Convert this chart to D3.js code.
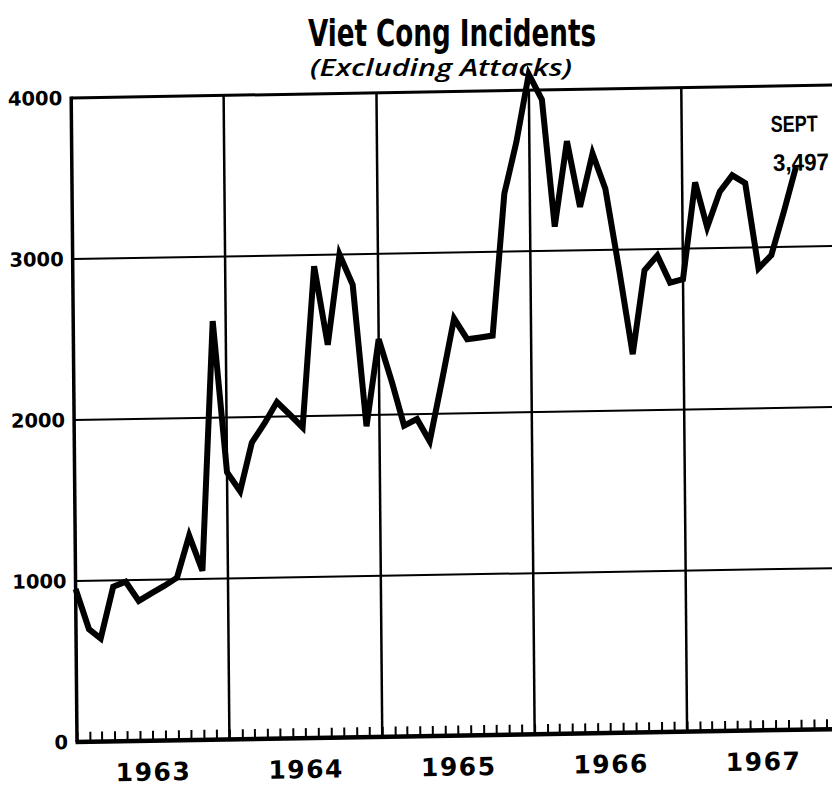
<!DOCTYPE html>
<html>
<head>
<meta charset="utf-8">
<script src="https://cdn.jsdelivr.net/npm/d3@7"></script>
<style>
  html, body { margin: 0; padding: 0; background: #fff; }
  svg { display: block; }
</style>
</head>
<body>
<div id="chart"></div>
<script>
// monthly totals, Dec 1962 .. Sept 1967
const months = [
  '1962-12',
  '1963-01','1963-02','1963-03','1963-04','1963-05','1963-06','1963-07','1963-08','1963-09','1963-10','1963-11','1963-12',
  '1964-01','1964-02','1964-03','1964-04','1964-05','1964-06','1964-07','1964-08','1964-09','1964-10','1964-11','1964-12',
  '1965-01','1965-02','1965-03','1965-04','1965-05','1965-06','1965-07','1965-08','1965-09','1965-10','1965-11','1965-12',
  '1966-01','1966-02','1966-03','1966-04','1966-05','1966-06','1966-07','1966-08','1966-09','1966-10','1966-11','1966-12',
  '1967-01','1967-02','1967-03','1967-04','1967-05','1967-06','1967-07','1967-08','1967-09'
]
const incidents = [
  950,
  700, 640, 960, 990, 870, 915, 960, 1010, 1270, 1050, 2600, 1660,
  1540, 1840, 1960, 2090, 2010, 1930, 2930, 2440, 3000, 2810, 1930, 2470,
  2200, 1930, 1970, 1830, 2210, 2590, 2460, 2470, 2480, 3360, 3680, 4100,
  3940, 3150, 3680, 3270, 3600, 3380, 2880, 2350, 2870, 2960, 2790, 2810,
  3410, 3130, 3350, 3450, 3400, 2870, 2950, 3220, 3497
]
const years = ['1963', '1964', '1965', '1966', '1967']
const yTicks = [0, 1000, 2000, 3000, 4000]
const endLabel = ['SEPT', '3,497']

const width = 832, height = 786
const parseMonth = d3.timeParse('%Y-%m')

// points sit at the end of their month
const data = months.map((m, i) => ({ date: d3.timeMonth.offset(parseMonth(m), 1), value: incidents[i] }))

const x = d3.scaleTime()
  .domain([new Date(1963, 0, 1), new Date(1968, 0, 1)])
  .range([77, 839.5])

const y = d3.scaleLinear()
  .domain([0, 4000])
  .range([742, 98])

const svg = d3.select('#chart')
  .append('svg')
  .attr('width', width)
  .attr('height', height)

svg.append('rect')
  .attr('width', width)
  .attr('height', height)
  .attr('fill', '#fff')

// titles
svg.append('text')
  .attr('x', 452)
  .attr('y', 46)
  .attr('text-anchor', 'middle')
  .attr('font-family', '"DejaVu Sans Condensed", "DejaVu Sans", sans-serif')
  .attr('font-stretch', 'condensed')
  .attr('font-weight', 'bold')
  .attr('font-size', 38)
  .attr('textLength', 288)
  .attr('lengthAdjust', 'spacingAndGlyphs')
  .text('Viet Cong Incidents')

svg.append('text')
  .attr('x', 441)
  .attr('y', 76)
  .attr('text-anchor', 'middle')
  .attr('font-family', '"Open Sans", sans-serif')
  .attr('font-style', 'italic')
  .attr('font-weight', 600)
  .attr('font-size', 23)
  .attr('textLength', 262)
  .attr('lengthAdjust', 'spacingAndGlyphs')
  .text('(Excluding Attacks)')

// the scanned page is slightly skewed
const chart = svg.append('g')
  .attr('transform', `matrix(1,-0.017,0.009,1,${-0.009 * 742},${0.017 * 77})`)

const x0 = x.range()[0], x1 = x.range()[1]

// horizontal grid
chart.append('g')
  .selectAll('line')
  .data(yTicks.filter(d => d > 0))
  .enter()
  .append('line')
  .attr('x1', x0)
  .attr('x2', x1)
  .attr('y1', d => y(d))
  .attr('y2', d => y(d))
  .attr('stroke', '#000')
  .attr('stroke-width', d => d === 4000 ? 3 : 2)

// year dividers
chart.append('g')
  .selectAll('line')
  .data(years.slice(1))
  .enter()
  .append('line')
  .attr('x1', d => x(new Date(+d, 0, 1)))
  .attr('x2', d => x(new Date(+d, 0, 1)))
  .attr('y1', y(4000))
  .attr('y2', y(0))
  .attr('stroke', '#000')
  .attr('stroke-width', 2.5)

// left axis line
chart.append('line')
  .attr('x1', x0).attr('x2', x0)
  .attr('y1', y(4000) - 1.5).attr('y2', y(0))
  .attr('stroke', '#000')
  .attr('stroke-width', 3.5)

// month ticks along the bottom
const monthAxis = chart.append('g')
  .attr('transform', `translate(0,${y(0)})`)
  .call(d3.axisBottom(x).ticks(d3.timeMonth.every(1)).tickSize(-10).tickFormat(''))

monthAxis.select('.domain').remove()
monthAxis.selectAll('.tick line')
  .attr('stroke', '#000')
  .attr('stroke-width', 2)

chart.append('line')
  .attr('x1', x0 - 1.5).attr('x2', x1)
  .attr('y1', y(0)).attr('y2', y(0))
  .attr('stroke', '#000')
  .attr('stroke-width', 4.5)

// y labels
const yAxis = chart.append('g')
  .attr('transform', `translate(${x0},0)`)
  .call(d3.axisLeft(y).tickValues(yTicks).tickSize(0).tickPadding(9).tickFormat(d3.format('d')))

yAxis.select('.domain').remove()
yAxis.selectAll('text')
  .attr('fill', '#000')
  .attr('font-family', '"DejaVu Sans", sans-serif')
  .attr('font-weight', 'bold')
  .attr('font-size', 19.5)

// year labels
chart.append('g')
  .selectAll('text')
  .data(years)
  .enter()
  .append('text')
  .attr('x', d => (x(new Date(+d, 0, 1)) + x(new Date(+d + 1, 0, 1))) / 2)
  .attr('y', 782)
  .attr('text-anchor', 'middle')
  .attr('font-family', '"DejaVu Sans", sans-serif')
  .attr('font-weight', 'bold')
  .attr('font-size', 25)
  .attr('letter-spacing', 1.5)
  .text(d => d)

// the incidents line
const line = d3.line()
  .x(d => x(d.date))
  .y(d => y(d.value))

chart.append('path')
  .datum(data)
  .attr('d', line)
  .attr('fill', 'none')
  .attr('stroke', '#000')
  .attr('stroke-width', 6)
  .attr('stroke-linejoin', 'miter')
  .attr('stroke-miterlimit', 4)

// end label
const last = data[data.length - 1]

chart.append('text')
  .attr('x', x(last.date) - 25)
  .attr('y', y(last.value) - 35)
  .attr('font-family', '"Liberation Sans", Arial, sans-serif')
  .attr('font-weight', 'bold')
  .attr('font-size', 23)
  .attr('textLength', 47)
  .attr('lengthAdjust', 'spacingAndGlyphs')
  .text(endLabel[0])

chart.append('text')
  .attr('x', x(last.date) - 23)
  .attr('y', y(last.value) + 4)
  .attr('font-family', '"Liberation Sans", Arial, sans-serif')
  .attr('font-weight', 'bold')
  .attr('font-size', 24)
  .attr('textLength', 56)
  .attr('lengthAdjust', 'spacingAndGlyphs')
  .text(endLabel[1])
</script>
</body>
</html>
